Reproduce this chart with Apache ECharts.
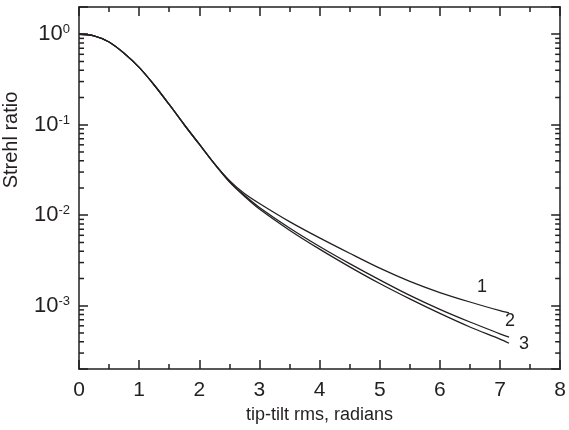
<!DOCTYPE html>
<html>
<head>
<meta charset="utf-8">
<script src="https://cdn.jsdelivr.net/npm/echarts@6/dist/echarts.min.js"></script>
<style>
  html, body { margin: 0; padding: 0; background: #fff; }
  #container { width: 569px; height: 430px; }
</style>
</head>
<body>
<div id="container"></div>
<script>
// tip-tilt rms (radians)
var tipTilt = [0, 0.25, 0.5, 0.75, 1.0, 1.25, 1.5, 1.75, 2.0, 2.25, 2.5, 2.75, 3.0, 3.5, 4.0, 4.5, 5.0, 5.5, 6.0, 6.5, 7.0, 7.15];
// Strehl ratio
var curve1 = [1.0, 0.962, 0.822, 0.617, 0.430, 0.275, 0.1675, 0.100, 0.0610, 0.0372, 0.0243, 0.0174, 0.0135, 0.00851, 0.00562, 0.00380, 0.00260, 0.00186, 0.00140, 0.00110, 0.000881, 0.000832];
var curve2 = [1.0, 0.962, 0.822, 0.617, 0.430, 0.275, 0.1675, 0.100, 0.0610, 0.0372, 0.0237, 0.0166, 0.0122, 0.00724, 0.00452, 0.00292, 0.00193, 0.00130, 0.000912, 0.000661, 0.000490, 0.000449];
var curve3 = [1.0, 0.962, 0.822, 0.617, 0.430, 0.275, 0.1675, 0.100, 0.0610, 0.0372, 0.0234, 0.0162, 0.0117, 0.00684, 0.00422, 0.00269, 0.00176, 0.00119, 0.000822, 0.000582, 0.000427, 0.000385];
var curveNames = ['1', '2', '3'];
var xTicks = [0, 8];
var yRange = [2e-4, 2];
// minor log ticks 2..9 of each decade
var minorTicks = [];
[1e-4, 1e-3, 1e-2, 1e-1].forEach(function (d) {
    for (var k = 2; k <= 9; k++) {
        var v = k * d;
        if (v > yRange[0]) minorTicks.push(v);
    }
});

var dom = document.getElementById('container');
var myChart = echarts.init(dom);
var ink = '#231f20';
var font = 'Liberation Sans, Arial, sans-serif';

function pairs(ys) {
    return tipTilt.map(function (x, i) { return [x, ys[i]]; });
}

function yLabel(v) {
    var e = Math.round(Math.log10(v));
    if (Math.abs(Math.log10(v) - e) > 1e-6) return '';
    return '{b|10}{s|' + e + '}';
}

var xBase = {
    type: 'value',
    min: xTicks[0],
    max: xTicks[1],
    interval: 1,
    splitLine: { show: false },
    axisLine: { onZero: false, lineStyle: { color: ink, width: 1.5 } },
    axisTick: { inside: true, length: 9, lineStyle: { color: ink, width: 1.5 } },
    minorTick: { show: true, splitNumber: 2, length: 5, lineStyle: { color: ink, width: 1.5 } }
};
var yBase = {
    type: 'log',
    logBase: 10,
    min: yRange[0],
    max: yRange[1],
    splitNumber: 4,
    splitLine: { show: false },
    axisLine: { onZero: false, lineStyle: { color: ink, width: 1.5 } },
    axisTick: { inside: true, length: 9, lineStyle: { color: ink, width: 1.5 } }
};

function lineSeries(name, ys, off) {
    return {
        name: name,
        type: 'line',
        data: pairs(ys),
        smooth: 0.3,
        showSymbol: false,
        lineStyle: { color: ink, width: 1.3 },
        endLabel: {
            show: true,
            formatter: name,
            color: ink,
            fontFamily: font,
            fontSize: 18,
            align: 'center',
            verticalAlign: 'middle',
            distance: 0,
            offset: off
        }
    };
}

option = {
    animation: false,
    backgroundColor: '#fff',
    grid: { left: 79, right: 6, top: 7, bottom: 61 },
    xAxis: [
        echarts.util.merge({
            position: 'bottom',
            name: 'tip-tilt rms, radians',
            nameLocation: 'middle',
            nameGap: 31,
            nameTextStyle: { color: ink, fontFamily: font, fontSize: 18 },
            axisLabel: { color: ink, fontFamily: font, fontSize: 21, margin: 11 }
        }, xBase, true),
        echarts.util.merge({
            position: 'top',
            axisLabel: { show: false }
        }, xBase, true)
    ],
    yAxis: [
        echarts.util.merge({
            position: 'left',
            axisLabel: {
                color: ink,
                margin: 9,
                formatter: yLabel,
                rich: {
                    b: { fontFamily: font, fontSize: 22, color: ink, lineHeight: 22 },
                    s: { fontFamily: font, fontSize: 13, color: ink, verticalAlign: 'top', lineHeight: 14 }
                }
            }
        }, yBase, true),
        echarts.util.merge({
            position: 'right',
            axisLabel: { show: false }
        }, yBase, true)
    ],
    graphic: [{
        type: 'text',
        x: 11,
        y: 140,
        rotation: Math.PI / 2,
        style: {
            text: 'Strehl ratio',
            fill: ink,
            font: '20px ' + font,
            textAlign: 'center',
            textVerticalAlign: 'middle'
        }
    }],
    series: [
        {
            type: 'custom',
            silent: true,
            clip: false,
            data: minorTicks.map(function (v) { return [xTicks[0], v]; }),
            renderItem: function (params, api) {
                var v = api.value(1);
                var p = api.coord([xTicks[0], v]);
                var q = api.coord([xTicks[1], v]);
                var st = { stroke: ink, lineWidth: 1.5 };
                return {
                    type: 'group',
                    children: [
                        { type: 'line', shape: { x1: p[0], y1: p[1], x2: p[0] + 5, y2: p[1] }, style: st },
                        { type: 'line', shape: { x1: q[0] - 5, y1: q[1], x2: q[0], y2: q[1] }, style: st }
                    ]
                };
            }
        },
        lineSeries(curveNames[0], curve1, [-27, -26]),
        lineSeries(curveNames[1], curve2, [1, -16]),
        lineSeries(curveNames[2], curve3, [15, 1])
    ]
};
if (option && typeof option === "object") {
    myChart.setOption(option, true);
}
</script>
</body>
</html>
